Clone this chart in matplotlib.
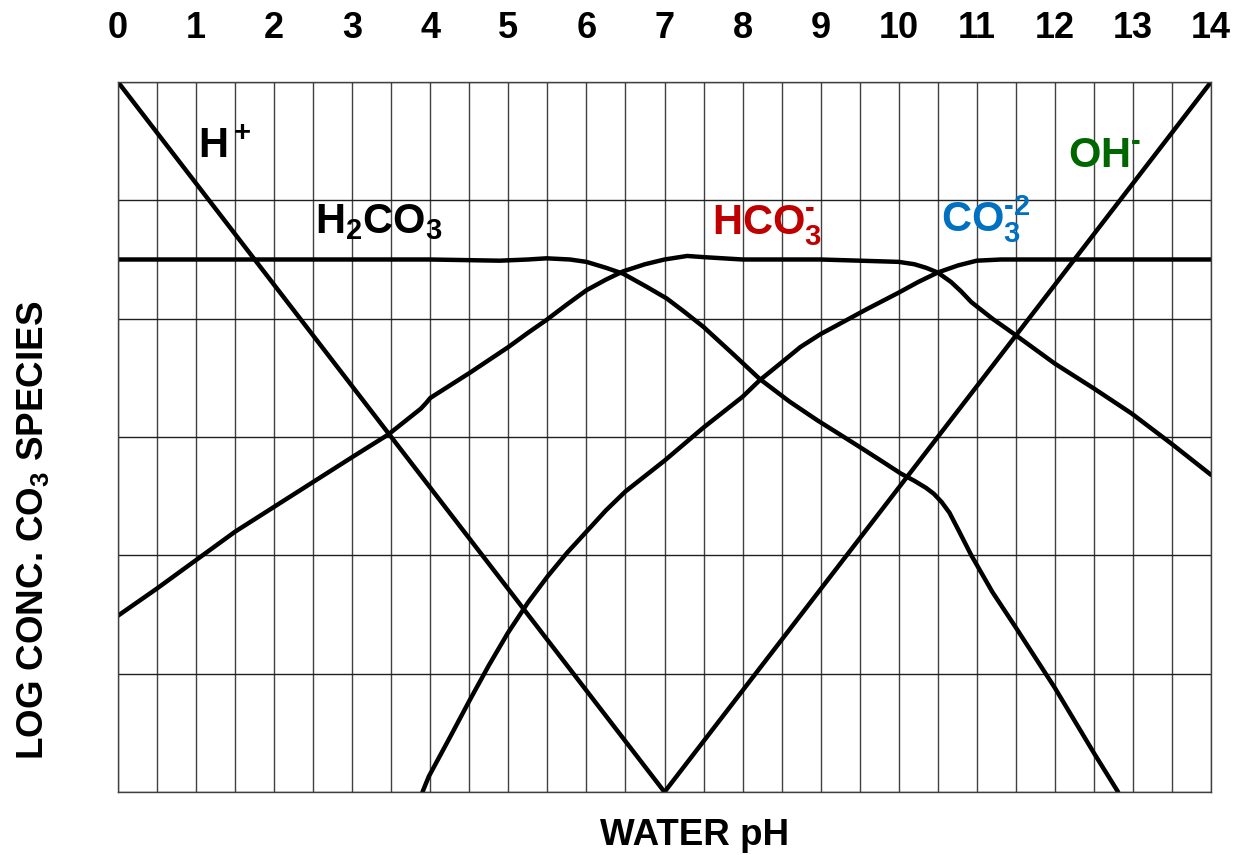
import matplotlib
matplotlib.use("Agg")
import matplotlib.pyplot as plt

# pH axis and ticks
ph_ticks = list(range(0, 15))
tick_labels = [str(t) for t in ph_ticks]

# concentration in grid units (0 = bottom, 6 = top)
h_ph = [0, 7]
h_conc = [6, 0]

oh_ph = [7, 14]
oh_conc = [0, 6]

h2co3_ph = [0, 2, 4, 4.89, 5.25, 5.49, 5.79, 6.0, 6.25, 6.47, 6.77, 7.03, 7.25, 7.5, 7.88, 8.22,
            8.6, 8.96, 9.25, 9.49, 9.75, 10.03, 10.2, 10.35, 10.45, 10.55, 10.65, 10.76, 10.93,
            11.2, 11.5, 12.0, 12.5, 12.81]
h2co3_conc = [4.5, 4.5, 4.5, 4.49, 4.5, 4.51, 4.5, 4.48, 4.43, 4.38, 4.27, 4.17, 4.06, 3.93, 3.70, 3.49,
              3.3, 3.14, 3.02, 2.92, 2.81, 2.69, 2.63, 2.57, 2.52, 2.45, 2.36, 2.22, 2.0,
              1.69, 1.39, 0.88, 0.33, 0.0]

hco3_ph = [0, 0.5, 1.0, 1.5, 2.0, 2.5, 3.0, 3.46, 3.88, 3.95, 4.0, 4.5, 5.0, 5.25, 5.49, 5.75, 6.0,
           6.25, 6.47, 6.75, 7.0, 7.29, 7.5, 8.0, 8.5, 9.0, 9.5, 10.0, 10.2, 10.35, 10.5, 10.67,
           10.8, 10.93, 11.2, 11.5, 12.0, 12.5, 12.98, 13.5, 14.0]
hco3_conc = [1.49, 1.72, 1.96, 2.2, 2.41, 2.62, 2.83, 3.02, 3.24, 3.29, 3.33, 3.54, 3.76, 3.88, 3.99, 4.12, 4.24,
             4.33, 4.40, 4.46, 4.5, 4.53, 4.52, 4.5, 4.5, 4.5, 4.49, 4.48, 4.46, 4.43, 4.39, 4.31,
             4.23, 4.14, 4.0, 3.86, 3.62, 3.41, 3.2, 2.94, 2.68]

co3_ph = [3.9, 3.98, 4.25, 4.5, 4.75, 4.99, 5.25, 5.5, 5.75, 6.0, 6.25, 6.5, 7.0, 7.5, 8.0, 8.22,
          8.5, 8.74, 9.0, 9.17, 9.59, 10.0, 10.25, 10.5, 10.76, 11.0, 11.31, 12.0, 13.0, 14.0]
co3_conc = [0.0, 0.13, 0.46, 0.77, 1.07, 1.34, 1.60, 1.82, 2.02, 2.2, 2.38, 2.54, 2.8, 3.08, 3.34, 3.48,
            3.63, 3.76, 3.87, 3.93, 4.08, 4.22, 4.31, 4.39, 4.45, 4.49, 4.5, 4.5, 4.5, 4.5]

# label text and anchor (pH, conc)
species = ["H$^+$", "H$_2$CO$_3$", "HCO$_3^{\\text{-}}$", "CO$_3^{\\text{-2}}$", "OH$^{\\text{-}}$"]
label_ph = [1.02, 2.52, 7.61, 10.54, 12.17]
label_conc = [5.36, 4.72, 4.71, 4.74, 5.28]
label_colors = ["black", "black", "#C00000", "#0070C0", "#006600"]

plt.rcParams["font.family"] = ["Liberation Sans", "DejaVu Sans"]
plt.rcParams["font.weight"] = "bold"
plt.rcParams["mathtext.fontset"] = "custom"
plt.rcParams["mathtext.rm"] = "Liberation Sans:bold"
plt.rcParams["mathtext.bf"] = "Liberation Sans:bold"
plt.rcParams["mathtext.it"] = "Liberation Sans:bold"
plt.rcParams["mathtext.sf"] = "Liberation Sans:bold"
plt.rcParams["mathtext.default"] = "rm"

fig = plt.figure(figsize=(12.36, 8.55), dpi=100)
ax = fig.add_axes([118 / 1236, 1 - 792 / 855, (1211 - 118) / 1236, (792 - 82) / 855])

ax.set_xlim(0, 14)
ax.set_ylim(0, 6)

# grid: vertical every 0.5 pH, horizontal every unit
ax.set_xticks(ph_ticks)
ax.set_xticklabels(tick_labels)
ax.set_xticks([t + 0.5 for t in ph_ticks[:-1]], minor=True)
ax.set_yticks(range(0, 7))
ax.set_yticklabels([])
ax.grid(True, which="both", axis="x", color="#404040", linewidth=1.0)
ax.grid(True, which="major", axis="y", color="#202020", linewidth=1.0)
ax.set_axisbelow(True)

ax.xaxis.tick_top()
ax.tick_params(axis="x", which="both", length=0, pad=26, labelsize=26)
ax.tick_params(axis="y", length=0)
for s in ax.spines.values():
    s.set_color("#404040")
    s.set_linewidth(1.0)

lw = 3.2
ax.plot(h_ph, h_conc, color="black", lw=lw, solid_capstyle="round")
ax.plot(oh_ph, oh_conc, color="black", lw=lw, solid_capstyle="round")
ax.plot(h2co3_ph, h2co3_conc, color="black", lw=lw, solid_capstyle="round")
ax.plot(hco3_ph, hco3_conc, color="black", lw=lw, solid_capstyle="round")
ax.plot(co3_ph, co3_conc, color="black", lw=lw, solid_capstyle="round")

for name, px, py, c in zip(species, label_ph, label_conc, label_colors):
    ax.text(px, py, name, color=c, fontsize=30, fontweight="bold",
            ha="left", va="baseline")

fig.text(695 / 1236, 1 - 835 / 855, "WATER pH", fontsize=26.5, fontweight="bold",
         ha="center", va="center")
fig.text(33 / 1236, 1 - 530 / 855, "LOG CONC. CO$_3$ SPECIES", fontsize=26.5,
         fontweight="bold", rotation=90, ha="center", va="center")

fig.savefig("out.png", dpi=100)
